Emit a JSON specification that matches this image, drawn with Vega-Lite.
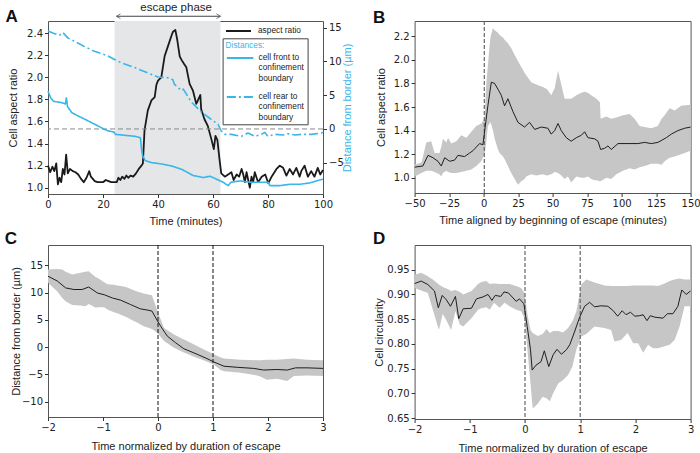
{
  "$schema": "https://vega.github.io/schema/vega-lite/v6.json",
  "padding": {"left": 4, "top": 1, "right": 5, "bottom": 5},
  "background": "white",
  "datasets": {
    "aspect": [
      {"t":0,"v":1.20},{"t":0.8,"v":1.14},{"t":1.6,"v":1.19},{"t":2.3,"v":1.15},{"t":3.0,"v":1.22},{"t":3.6,"v":1.03},{"t":4.2,"v":1.09},{"t":4.8,"v":1.05},{"t":5.4,"v":1.17},{"t":6.0,"v":1.12},{"t":6.6,"v":1.30},{"t":7.2,"v":1.13},{"t":8.0,"v":1.17},{"t":9.0,"v":1.15},{"t":10.0,"v":1.14},{"t":11.0,"v":1.12},{"t":12.0,"v":1.08},{"t":13.0,"v":1.05},{"t":14.0,"v":1.09},{"t":15.0,"v":1.15},{"t":15.6,"v":1.10},{"t":16.3,"v":1.08},{"t":17.0,"v":1.06},{"t":18.0,"v":1.05},{"t":19.0,"v":1.05},{"t":20.0,"v":1.05},{"t":21.0,"v":1.07},{"t":22.0,"v":1.06},{"t":23.0,"v":1.05},{"t":24.0,"v":1.05},{"t":25.0,"v":1.05},{"t":25.6,"v":1.09},{"t":26.3,"v":1.07},{"t":27.0,"v":1.10},{"t":27.8,"v":1.08},{"t":28.5,"v":1.11},{"t":29.2,"v":1.09},{"t":30.0,"v":1.11},{"t":31.0,"v":1.10},{"t":32.0,"v":1.13},{"t":33.0,"v":1.17},{"t":34.0,"v":1.20},{"t":34.5,"v":1.22},{"t":35.1,"v":1.52},{"t":36.3,"v":1.70},{"t":37.6,"v":1.79},{"t":38.8,"v":1.82},{"t":39.4,"v":1.93},{"t":40.0,"v":1.97},{"t":41.2,"v":2.00},{"t":42.4,"v":2.19},{"t":43.6,"v":2.28},{"t":44.8,"v":2.37},{"t":45.4,"v":2.41},{"t":46.3,"v":2.43},{"t":47.0,"v":2.34},{"t":47.9,"v":2.19},{"t":48.5,"v":2.16},{"t":49.5,"v":2.12},{"t":50.3,"v":2.09},{"t":51.5,"v":1.94},{"t":52.7,"v":1.88},{"t":53.9,"v":1.76},{"t":54.5,"v":1.79},{"t":55.4,"v":1.84},{"t":55.7,"v":1.71},{"t":56.9,"v":1.62},{"t":58.1,"v":1.56},{"t":59.4,"v":1.44},{"t":60.3,"v":1.35},{"t":60.9,"v":1.47},{"t":61.6,"v":1.43},{"t":62.4,"v":1.25},{"t":63.0,"v":1.13},{"t":64.3,"v":1.10},{"t":65.5,"v":1.12},{"t":66.7,"v":1.14},{"t":67.5,"v":1.07},{"t":68.6,"v":1.12},{"t":69.5,"v":1.10},{"t":70.4,"v":1.17},{"t":71.0,"v":1.12},{"t":71.6,"v":1.05},{"t":72.2,"v":1.14},{"t":73.4,"v":1.00},{"t":74.0,"v":1.10},{"t":74.6,"v":1.05},{"t":75.2,"v":1.14},{"t":76.4,"v":1.05},{"t":77.7,"v":1.10},{"t":79.0,"v":1.12},{"t":80.1,"v":1.04},{"t":81.3,"v":1.10},{"t":83.1,"v":1.17},{"t":84.3,"v":1.20},{"t":85.5,"v":1.18},{"t":86.7,"v":1.11},{"t":87.9,"v":1.17},{"t":89.1,"v":1.12},{"t":90.3,"v":1.18},{"t":91.5,"v":1.10},{"t":92.1,"v":1.15},{"t":93.3,"v":1.20},{"t":94.5,"v":1.10},{"t":95.7,"v":1.15},{"t":96.9,"v":1.10},{"t":98.1,"v":1.18},{"t":99.0,"v":1.12},{"t":100.0,"v":1.16}
    ],
    "dist": [
      {"which":"cell front to|confinement|boundary","t":0,"d":5.6},{"which":"cell front to|confinement|boundary","t":1.0,"d":4.6},{"which":"cell front to|confinement|boundary","t":2.0,"d":4.1},{"which":"cell front to|confinement|boundary","t":3.5,"d":4.0},{"which":"cell front to|confinement|boundary","t":5.0,"d":3.9},{"which":"cell front to|confinement|boundary","t":6.3,"d":3.7},{"which":"cell front to|confinement|boundary","t":6.7,"d":4.6},{"which":"cell front to|confinement|boundary","t":7.1,"d":3.3},{"which":"cell front to|confinement|boundary","t":8.7,"d":2.4},{"which":"cell front to|confinement|boundary","t":11.1,"d":1.9},{"which":"cell front to|confinement|boundary","t":13.6,"d":1.4},{"which":"cell front to|confinement|boundary","t":16.0,"d":0.9},{"which":"cell front to|confinement|boundary","t":18.4,"d":0.4},{"which":"cell front to|confinement|boundary","t":20.2,"d":0.0},{"which":"cell front to|confinement|boundary","t":22.0,"d":-0.3},{"which":"cell front to|confinement|boundary","t":24.0,"d":-0.45},{"which":"cell front to|confinement|boundary","t":24.5,"d":-0.8},{"which":"cell front to|confinement|boundary","t":27.0,"d":-0.9},{"which":"cell front to|confinement|boundary","t":29.4,"d":-1.0},{"which":"cell front to|confinement|boundary","t":31.8,"d":-1.1},{"which":"cell front to|confinement|boundary","t":33.6,"d":-1.3},{"which":"cell front to|confinement|boundary","t":34.0,"d":-3.0},{"which":"cell front to|confinement|boundary","t":34.4,"d":-4.0},{"which":"cell front to|confinement|boundary","t":35.4,"d":-4.7},{"which":"cell front to|confinement|boundary","t":37.8,"d":-5.0},{"which":"cell front to|confinement|boundary","t":41.5,"d":-5.2},{"which":"cell front to|confinement|boundary","t":45.1,"d":-5.5},{"which":"cell front to|confinement|boundary","t":48.7,"d":-6.0},{"which":"cell front to|confinement|boundary","t":52.8,"d":-6.9},{"which":"cell front to|confinement|boundary","t":56.5,"d":-7.2},{"which":"cell front to|confinement|boundary","t":58.9,"d":-7.0},{"which":"cell front to|confinement|boundary","t":61.3,"d":-7.45},{"which":"cell front to|confinement|boundary","t":63.7,"d":-7.9},{"which":"cell front to|confinement|boundary","t":65.5,"d":-8.4},{"which":"cell front to|confinement|boundary","t":66.5,"d":-7.9},{"which":"cell front to|confinement|boundary","t":69.8,"d":-7.7},{"which":"cell front to|confinement|boundary","t":73.4,"d":-7.9},{"which":"cell front to|confinement|boundary","t":77.0,"d":-7.9},{"which":"cell front to|confinement|boundary","t":80.1,"d":-7.9},{"which":"cell front to|confinement|boundary","t":80.7,"d":-8.4},{"which":"cell front to|confinement|boundary","t":84.3,"d":-8.4},{"which":"cell front to|confinement|boundary","t":87.9,"d":-8.2},{"which":"cell front to|confinement|boundary","t":91.5,"d":-8.2},{"which":"cell front to|confinement|boundary","t":95.2,"d":-8.0},{"which":"cell front to|confinement|boundary","t":97.6,"d":-7.7},{"which":"cell front to|confinement|boundary","t":100,"d":-7.45},
      {"which":"cell rear to|confinement|boundary","t":0,"d":14.5},{"which":"cell rear to|confinement|boundary","t":2.0,"d":14.2},{"which":"cell rear to|confinement|boundary","t":4.2,"d":13.9},{"which":"cell rear to|confinement|boundary","t":5.4,"d":14.3},{"which":"cell rear to|confinement|boundary","t":7.2,"d":13.5},{"which":"cell rear to|confinement|boundary","t":9.6,"d":13.0},{"which":"cell rear to|confinement|boundary","t":13.3,"d":12.2},{"which":"cell rear to|confinement|boundary","t":16.9,"d":11.5},{"which":"cell rear to|confinement|boundary","t":20.6,"d":11.0},{"which":"cell rear to|confinement|boundary","t":21.8,"d":10.8},{"which":"cell rear to|confinement|boundary","t":24.2,"d":10.3},{"which":"cell rear to|confinement|boundary","t":26.7,"d":9.8},{"which":"cell rear to|confinement|boundary","t":31.5,"d":9.1},{"which":"cell rear to|confinement|boundary","t":36.3,"d":8.3},{"which":"cell rear to|confinement|boundary","t":40.0,"d":7.7},{"which":"cell rear to|confinement|boundary","t":43.6,"d":7.6},{"which":"cell rear to|confinement|boundary","t":45.4,"d":7.3},{"which":"cell rear to|confinement|boundary","t":46.0,"d":6.6},{"which":"cell rear to|confinement|boundary","t":48.5,"d":5.7},{"which":"cell rear to|confinement|boundary","t":49.2,"d":5.9},{"which":"cell rear to|confinement|boundary","t":52.1,"d":4.0},{"which":"cell rear to|confinement|boundary","t":55.8,"d":2.5},{"which":"cell rear to|confinement|boundary","t":59.4,"d":1.4},{"which":"cell rear to|confinement|boundary","t":61.8,"d":0.7},{"which":"cell rear to|confinement|boundary","t":63.0,"d":-0.3},{"which":"cell rear to|confinement|boundary","t":64.3,"d":-0.8},{"which":"cell rear to|confinement|boundary","t":66.7,"d":-0.8},{"which":"cell rear to|confinement|boundary","t":70.3,"d":-1.1},{"which":"cell rear to|confinement|boundary","t":72.7,"d":-0.6},{"which":"cell rear to|confinement|boundary","t":75.2,"d":-1.1},{"which":"cell rear to|confinement|boundary","t":77.6,"d":-0.8},{"which":"cell rear to|confinement|boundary","t":78.8,"d":-0.5},{"which":"cell rear to|confinement|boundary","t":80.0,"d":-1.1},{"which":"cell rear to|confinement|boundary","t":82.5,"d":-0.8},{"which":"cell rear to|confinement|boundary","t":85.5,"d":-0.9},{"which":"cell rear to|confinement|boundary","t":87.3,"d":-0.7},{"which":"cell rear to|confinement|boundary","t":90.0,"d":-0.9},{"which":"cell rear to|confinement|boundary","t":92.1,"d":-0.8},{"which":"cell rear to|confinement|boundary","t":95.7,"d":-0.8},{"which":"cell rear to|confinement|boundary","t":99.4,"d":-0.6},{"which":"cell rear to|confinement|boundary","t":100,"d":-0.5}
    ],
    "phase": [{"label":"escape phase","start":24.2,"end":62.7,"a0":24.9,"a1":62.7,"mid":46.6}],
    "bmean": [
      {"t":-50,"m":1.09},{"t":-44,"m":1.10},{"t":-40.3,"m":1.19},{"t":-36.7,"m":1.17},{"t":-33.1,"m":1.14},{"t":-30.7,"m":1.10},{"t":-28.2,"m":1.17},{"t":-24.6,"m":1.14},{"t":-21,"m":1.15},{"t":-18.6,"m":1.19},{"t":-13.8,"m":1.18},{"t":-10.1,"m":1.21},{"t":-7.7,"m":1.23},{"t":-5.3,"m":1.26},{"t":-2.9,"m":1.29},{"t":-0.5,"m":1.28},{"t":0.7,"m":1.39},{"t":3.1,"m":1.61},{"t":5.6,"m":1.81},{"t":8,"m":1.80},{"t":10.9,"m":1.74},{"t":12.8,"m":1.70},{"t":15.2,"m":1.61},{"t":17.6,"m":1.67},{"t":21.3,"m":1.56},{"t":24.9,"m":1.47},{"t":29.7,"m":1.43},{"t":33.3,"m":1.47},{"t":37,"m":1.41},{"t":41.8,"m":1.43},{"t":46.6,"m":1.42},{"t":49,"m":1.37},{"t":51.5,"m":1.40},{"t":53.9,"m":1.46},{"t":56.3,"m":1.40},{"t":59.9,"m":1.34},{"t":63.5,"m":1.31},{"t":67.2,"m":1.34},{"t":70.8,"m":1.36},{"t":73.2,"m":1.39},{"t":75.6,"m":1.34},{"t":80.5,"m":1.33},{"t":82.9,"m":1.31},{"t":84.8,"m":1.24},{"t":87.7,"m":1.25},{"t":90.1,"m":1.27},{"t":92.5,"m":1.24},{"t":97.4,"m":1.29},{"t":104.6,"m":1.29},{"t":111.8,"m":1.29},{"t":116.7,"m":1.30},{"t":121.5,"m":1.29},{"t":126.3,"m":1.30},{"t":132.4,"m":1.34},{"t":136,"m":1.37},{"t":140.8,"m":1.40},{"t":145.7,"m":1.42},{"t":150,"m":1.43}
    ],
    "bband": [
      {"t":-50,"lo":1.01,"hi":1.11},{"t":-45,"lo":1.04,"hi":1.13},{"t":-41.5,"lo":1.06,"hi":1.30},{"t":-38,"lo":1.06,"hi":1.31},{"t":-35.5,"lo":1.05,"hi":1.21},{"t":-32,"lo":1.03,"hi":1.21},{"t":-30.7,"lo":1.01,"hi":1.26},{"t":-29.5,"lo":1.04,"hi":1.33},{"t":-27,"lo":1.06,"hi":1.30},{"t":-25.8,"lo":1.05,"hi":1.34},{"t":-23.4,"lo":1.04,"hi":1.29},{"t":-19.8,"lo":1.04,"hi":1.31},{"t":-16.2,"lo":1.05,"hi":1.36},{"t":-12.5,"lo":1.06,"hi":1.34},{"t":-8.9,"lo":1.07,"hi":1.39},{"t":-5.3,"lo":1.10,"hi":1.44},{"t":-1.7,"lo":1.14,"hi":1.46},{"t":0.7,"lo":1.20,"hi":1.50},{"t":1.9,"lo":1.30,"hi":1.79},{"t":3.1,"lo":1.44,"hi":1.95},{"t":4.4,"lo":1.46,"hi":2.13},{"t":5.1,"lo":1.47,"hi":2.20},{"t":6.8,"lo":1.40,"hi":2.27},{"t":8,"lo":1.33,"hi":2.25},{"t":10.4,"lo":1.24,"hi":2.23},{"t":11.6,"lo":1.21,"hi":2.21},{"t":14,"lo":1.18,"hi":2.19},{"t":15.2,"lo":1.16,"hi":2.17},{"t":17.6,"lo":1.10,"hi":2.14},{"t":18.8,"lo":1.07,"hi":2.12},{"t":20,"lo":1.04,"hi":2.10},{"t":22.5,"lo":0.99,"hi":2.04},{"t":24.9,"lo":0.94,"hi":1.99},{"t":27.3,"lo":0.97,"hi":1.94},{"t":29.7,"lo":0.99,"hi":1.89},{"t":30.9,"lo":1.01,"hi":1.87},{"t":34.5,"lo":1.03,"hi":1.81},{"t":38.2,"lo":1.02,"hi":1.79},{"t":43,"lo":1.03,"hi":1.77},{"t":46,"lo":1.02,"hi":1.75},{"t":49,"lo":1.03,"hi":1.70},{"t":51.5,"lo":1.05,"hi":1.76},{"t":53.9,"lo":1.04,"hi":1.91},{"t":56.3,"lo":1.02,"hi":1.79},{"t":58.7,"lo":0.99,"hi":1.67},{"t":61.1,"lo":1.01,"hi":1.67},{"t":63.5,"lo":0.96,"hi":1.67},{"t":67.2,"lo":1.01,"hi":1.70},{"t":70.8,"lo":1.00,"hi":1.72},{"t":73.2,"lo":1.00,"hi":1.73},{"t":75.6,"lo":1.01,"hi":1.72},{"t":78,"lo":0.99,"hi":1.70},{"t":80.5,"lo":0.98,"hi":1.68},{"t":81.7,"lo":0.98,"hi":1.67},{"t":84.3,"lo":0.97,"hi":1.64},{"t":84.8,"lo":0.97,"hi":1.50},{"t":88.9,"lo":1.00,"hi":1.52},{"t":92.5,"lo":0.99,"hi":1.50},{"t":96.2,"lo":1.03,"hi":1.51},{"t":101,"lo":1.06,"hi":1.53},{"t":105.8,"lo":1.08,"hi":1.54},{"t":109.4,"lo":1.07,"hi":1.50},{"t":113.1,"lo":1.09,"hi":1.44},{"t":116.7,"lo":1.10,"hi":1.43},{"t":121.5,"lo":1.12,"hi":1.42},{"t":126.3,"lo":1.12,"hi":1.44},{"t":129,"lo":1.11,"hi":1.50},{"t":131.2,"lo":1.14,"hi":1.53},{"t":134.8,"lo":1.17,"hi":1.59},{"t":138.4,"lo":1.18,"hi":1.57},{"t":143.2,"lo":1.20,"hi":1.61},{"t":150,"lo":1.23,"hi":1.62}
    ],
    "cmean": [
      {"t":-2,"m":12.99},{"t":-1.83,"m":12.1},{"t":-1.68,"m":10.85},{"t":-1.53,"m":10.55},{"t":-1.38,"m":10.55},{"t":-1.26,"m":11.0},{"t":-1.10,"m":9.9},{"t":-0.98,"m":9.6},{"t":-0.83,"m":9.0},{"t":-0.68,"m":8.6},{"t":-0.50,"m":7.8},{"t":-0.32,"m":7.0},{"t":-0.20,"m":6.8},{"t":-0.11,"m":6.6},{"t":-0.01,"m":4.8},{"t":0.05,"m":3.8},{"t":0.17,"m":2.0},{"t":0.32,"m":0.8},{"t":0.47,"m":-0.3},{"t":0.71,"m":-1.3},{"t":0.89,"m":-2.1},{"t":1.01,"m":-2.7},{"t":1.20,"m":-3.5},{"t":1.44,"m":-3.7},{"t":1.74,"m":-3.9},{"t":1.92,"m":-4.2},{"t":2.16,"m":-4.1},{"t":2.35,"m":-4.2},{"t":2.50,"m":-3.8},{"t":2.71,"m":-3.8},{"t":3.0,"m":-3.9}
    ],
    "cband": [
      {"t":-2,"lo":11.8,"hi":14.2},{"t":-1.83,"lo":10.2,"hi":14.3},{"t":-1.74,"lo":9.0,"hi":14.2},{"t":-1.68,"lo":8.4,"hi":13.8},{"t":-1.56,"lo":7.7,"hi":13.3},{"t":-1.41,"lo":7.6,"hi":13.6},{"t":-1.32,"lo":7.5,"hi":13.8},{"t":-1.26,"lo":7.9,"hi":13.9},{"t":-1.13,"lo":7.2,"hi":12.8},{"t":-1.10,"lo":7.3,"hi":12.7},{"t":-0.98,"lo":7.3,"hi":11.9},{"t":-0.92,"lo":6.9,"hi":11.5},{"t":-0.80,"lo":6.4,"hi":11.4},{"t":-0.74,"lo":6.2,"hi":11.3},{"t":-0.62,"lo":5.7,"hi":11.1},{"t":-0.56,"lo":5.4,"hi":10.9},{"t":-0.44,"lo":4.8,"hi":10.4},{"t":-0.38,"lo":4.5,"hi":10.2},{"t":-0.26,"lo":3.8,"hi":9.8},{"t":-0.11,"lo":3.3,"hi":9.5},{"t":-0.01,"lo":2.6,"hi":6.6},{"t":0.11,"lo":1.1,"hi":3.5},{"t":0.29,"lo":-0.1,"hi":2.3},{"t":0.47,"lo":-1.0,"hi":1.4},{"t":0.53,"lo":-1.2,"hi":1.1},{"t":0.71,"lo":-2.0,"hi":0.2},{"t":0.77,"lo":-2.2,"hi":-0.1},{"t":0.95,"lo":-2.9,"hi":-1.0},{"t":1.01,"lo":-3.2,"hi":-1.3},{"t":1.14,"lo":-4.2,"hi":-1.9},{"t":1.20,"lo":-4.4,"hi":-2.1},{"t":1.50,"lo":-4.7,"hi":-2.3},{"t":1.80,"lo":-5.2,"hi":-2.4},{"t":1.86,"lo":-5.4,"hi":-2.4},{"t":1.98,"lo":-6.0,"hi":-2.3},{"t":2.16,"lo":-5.8,"hi":-2.3},{"t":2.35,"lo":-6.2,"hi":-2.2},{"t":2.47,"lo":-5.3,"hi":-2.1},{"t":2.71,"lo":-5.2,"hi":-2.3},{"t":3.0,"lo":-5.3,"hi":-2.4}
    ],
    "dmean": [
      {"t":-2,"m":0.922},{"t":-1.88,"m":0.927},{"t":-1.76,"m":0.920},{"t":-1.64,"m":0.907},{"t":-1.57,"m":0.873},{"t":-1.50,"m":0.898},{"t":-1.43,"m":0.890},{"t":-1.35,"m":0.876},{"t":-1.26,"m":0.896},{"t":-1.20,"m":0.851},{"t":-1.12,"m":0.871},{"t":-0.97,"m":0.872},{"t":-0.88,"m":0.891},{"t":-0.76,"m":0.895},{"t":-0.67,"m":0.900},{"t":-0.60,"m":0.888},{"t":-0.54,"m":0.898},{"t":-0.44,"m":0.896},{"t":-0.38,"m":0.905},{"t":-0.30,"m":0.903},{"t":-0.16,"m":0.886},{"t":-0.10,"m":0.891},{"t":-0.02,"m":0.881},{"t":0.04,"m":0.835},{"t":0.10,"m":0.788},{"t":0.13,"m":0.747},{"t":0.20,"m":0.757},{"t":0.29,"m":0.764},{"t":0.35,"m":0.786},{"t":0.43,"m":0.754},{"t":0.51,"m":0.778},{"t":0.58,"m":0.789},{"t":0.66,"m":0.779},{"t":0.75,"m":0.788},{"t":0.81,"m":0.798},{"t":0.89,"m":0.822},{"t":0.99,"m":0.854},{"t":1.08,"m":0.876},{"t":1.17,"m":0.884},{"t":1.26,"m":0.875},{"t":1.38,"m":0.877},{"t":1.50,"m":0.876},{"t":1.59,"m":0.868},{"t":1.68,"m":0.856},{"t":1.76,"m":0.867},{"t":1.83,"m":0.859},{"t":1.91,"m":0.864},{"t":1.99,"m":0.856},{"t":2.08,"m":0.857},{"t":2.14,"m":0.859},{"t":2.21,"m":0.847},{"t":2.27,"m":0.857},{"t":2.35,"m":0.854},{"t":2.50,"m":0.852},{"t":2.58,"m":0.861},{"t":2.68,"m":0.861},{"t":2.77,"m":0.876},{"t":2.84,"m":0.909},{"t":2.92,"m":0.900},{"t":3.0,"m":0.907}
    ],
    "dband": [
      {"t":-2,"lo":0.913,"hi":0.940},{"t":-1.88,"lo":0.908,"hi":0.944},{"t":-1.76,"lo":0.903,"hi":0.937},{"t":-1.67,"lo":0.869,"hi":0.930},{"t":-1.56,"lo":0.828,"hi":0.920},{"t":-1.49,"lo":0.861,"hi":0.915},{"t":-1.40,"lo":0.842,"hi":0.911},{"t":-1.34,"lo":0.828,"hi":0.907},{"t":-1.26,"lo":0.866,"hi":0.909},{"t":-1.18,"lo":0.839,"hi":0.905},{"t":-1.12,"lo":0.835,"hi":0.900},{"t":-0.97,"lo":0.852,"hi":0.907},{"t":-0.85,"lo":0.869,"hi":0.921},{"t":-0.79,"lo":0.872,"hi":0.925},{"t":-0.70,"lo":0.874,"hi":0.927},{"t":-0.64,"lo":0.869,"hi":0.921},{"t":-0.56,"lo":0.883,"hi":0.922},{"t":-0.46,"lo":0.873,"hi":0.921},{"t":-0.37,"lo":0.883,"hi":0.921},{"t":-0.28,"lo":0.876,"hi":0.921},{"t":-0.16,"lo":0.869,"hi":0.917},{"t":-0.07,"lo":0.866,"hi":0.913},{"t":-0.01,"lo":0.852,"hi":0.903},{"t":0.05,"lo":0.781,"hi":0.856},{"t":0.10,"lo":0.720,"hi":0.828},{"t":0.14,"lo":0.669,"hi":0.822},{"t":0.23,"lo":0.679,"hi":0.816},{"t":0.32,"lo":0.693,"hi":0.820},{"t":0.39,"lo":0.690,"hi":0.830},{"t":0.45,"lo":0.684,"hi":0.822},{"t":0.51,"lo":0.700,"hi":0.826},{"t":0.60,"lo":0.720,"hi":0.826},{"t":0.69,"lo":0.727,"hi":0.823},{"t":0.78,"lo":0.737,"hi":0.832},{"t":0.86,"lo":0.754,"hi":0.846},{"t":0.93,"lo":0.788,"hi":0.866},{"t":1.02,"lo":0.815,"hi":0.920},{"t":1.11,"lo":0.820,"hi":0.930},{"t":1.26,"lo":0.835,"hi":0.924},{"t":1.44,"lo":0.832,"hi":0.918},{"t":1.56,"lo":0.828,"hi":0.917},{"t":1.62,"lo":0.805,"hi":0.917},{"t":1.74,"lo":0.808,"hi":0.917},{"t":1.86,"lo":0.822,"hi":0.917},{"t":1.96,"lo":0.801,"hi":0.918},{"t":2.05,"lo":0.801,"hi":0.918},{"t":2.14,"lo":0.782,"hi":0.918},{"t":2.23,"lo":0.798,"hi":0.918},{"t":2.32,"lo":0.791,"hi":0.918},{"t":2.41,"lo":0.791,"hi":0.917},{"t":2.53,"lo":0.795,"hi":0.922},{"t":2.62,"lo":0.798,"hi":0.927},{"t":2.71,"lo":0.808,"hi":0.930},{"t":2.80,"lo":0.835,"hi":0.932},{"t":2.89,"lo":0.876,"hi":0.930},{"t":3.0,"lo":0.876,"hi":0.930}
    ],
    "cuts": [{"t":0},{"t":1}]
  },
  "columns": 2,
  "bounds": "flush",
  "spacing": {"row": 51, "column": 91.6},
  "resolve": {"scale": {"stroke": "independent", "strokeDash": "independent"}},
  "concat": [
    {
      "width": 275, "height": 173,
      "resolve": {"scale": {"y": "independent"}},
      "layer": [
        {
          "layer": [
            {"data": {"name": "phase"}, "mark": {"type": "rect", "color": "#e4e6e8"},
             "encoding": {"x": {"field": "start", "type": "quantitative"}, "x2": {"field": "end"}}},
            {"data": {"name": "aspect"}, "mark": {"type": "line", "strokeWidth": 1.8},
             "encoding": {
               "x": {"field": "t", "type": "quantitative", "scale": {"domain": [0, 100], "nice": false}, "axis": {"values": [0,20,40,60,80,100], "tickCount": 20, "format": "d", "title": "Time (minutes)", "titlePadding": 6}},
               "y": {"field": "v", "type": "quantitative", "scale": {"domain": [0.943, 2.51], "nice": false, "zero": false}, "axis": {"orient": "left", "values": [1.0,1.2,1.4,1.6,1.8,2.0,2.2,2.4], "tickCount": 20, "format": ".1f", "title": "Cell aspect ratio", "titlePadding": 8}},
               "stroke": {"datum": "aspect ratio", "type": "nominal", "scale": {"range": ["#1a1a1a"]},
                 "legend": {"title": null, "orient": "none", "legendX": 177, "legendY": -3.5, "symbolType": "stroke", "symbolSize": 625, "symbolStrokeWidth": 2, "labelFont": "Liberation Sans", "labelFontSize": 8.3, "labelColor": "#222", "labelOffset": 6, "padding": 0}}
             }},
            {"data": {"name": "phase"}, "mark": {"type": "rule", "color": "#444", "strokeWidth": 1},
             "encoding": {"x": {"field": "a0", "type": "quantitative"}, "x2": {"field": "a1"}, "y": {"datum": 2.553}}},
            {"data": {"name": "phase"}, "mark": {"type": "point", "shape": "M2,-1.2L0,0L2,1.2", "size": 16, "filled": false, "color": "#444", "strokeWidth": 1},
             "encoding": {"x": {"field": "a0", "type": "quantitative"}, "y": {"datum": 2.553}}},
            {"data": {"name": "phase"}, "mark": {"type": "point", "shape": "M-2,-1.2L0,0L-2,1.2", "size": 16, "filled": false, "color": "#444", "strokeWidth": 1},
             "encoding": {"x": {"field": "a1", "type": "quantitative"}, "y": {"datum": 2.553}}},
            {"data": {"name": "phase"}, "mark": {"type": "text", "font": "Liberation Sans", "fontSize": 11.5, "color": "#222", "baseline": "middle"},
             "encoding": {"x": {"field": "mid", "type": "quantitative"}, "y": {"datum": 2.626}, "text": {"field": "label"}}},
            {"data": {"values": [{"panel": "A"}]}, "mark": {"type": "text", "font": "Liberation Sans", "fontSize": 17, "fontWeight": "bold", "color": "#111", "align": "left", "baseline": "alphabetic"},
             "encoding": {"x": {"datum": -15.5}, "y": {"datum": 2.504}, "text": {"field": "panel"}}}
          ]
        },
        {
          "layer": [
            {"mark": {"type": "rule", "color": "#888", "strokeDash": [5, 3], "strokeWidth": 1},
             "data": {"values": [{"z": 0}]},
             "encoding": {"y": {"field": "z", "type": "quantitative"}}},
            {"data": {"name": "dist"}, "mark": {"type": "line", "strokeWidth": 1.6, "color": "#38b6ea"},
             "encoding": {
               "x": {"field": "t", "type": "quantitative"},
               "y": {"field": "d", "type": "quantitative", "scale": {"domain": [-9.64, 16], "nice": false, "zero": false}, "axis": {"orient": "right", "values": [-5,0,5,10,15], "tickCount": 20, "format": "d", "title": "Distance from border (µm)", "titleColor": "#38b6ea", "titleAngle": 270, "titlePadding": 9}},
               "strokeDash": {"field": "which", "type": "nominal", "scale": {"domain": ["cell front to|confinement|boundary", "cell rear to|confinement|boundary"], "range": [[1, 0], [9, 3, 2, 3]]},
                 "legend": {"title": "Distances:", "orient": "none", "legendX": 174.6, "legendY": 17.3, "titleColor": "#38b6ea", "titleFont": "Liberation Sans", "titleFontSize": 8.3, "titleFontWeight": "normal", "titlePadding": -6, "symbolType": "stroke", "symbolSize": 700, "symbolStrokeWidth": 2, "symbolStrokeColor": "#38b6ea", "labelFont": "Liberation Sans", "labelFontSize": 8.3, "labelColor": "#222", "labelOffset": 4, "labelLimit": 0, "labelExpr": "split(datum.label, '|')", "rowPadding": -1, "padding": 3, "strokeColor": "#444", "fillColor": "white",
                   "encode": {"labels": {"update": {"lineHeight": {"value": 10.2}}}}}}
             }}
          ]
        }
      ]
    },
    {
      "width": 276, "height": 172,
      "layer": [
        {"data": {"name": "bband"}, "mark": {"type": "area", "color": "#c6c6c6", "opacity": 1},
         "encoding": {
           "x": {"field": "t", "type": "quantitative", "scale": {"domain": [-50, 150], "nice": false}, "axis": {"values": [-50,-25,0,25,50,75,100,125,150], "tickCount": 20, "format": "d", "title": "Time aligned by beginning of escape (minutes)", "titlePadding": 6}},
           "y": {"field": "lo", "type": "quantitative", "scale": {"domain": [0.871, 2.329], "nice": false, "zero": false}, "axis": {"values": [1.0,1.2,1.4,1.6,1.8,2.0,2.2], "tickCount": 20, "format": ".1f", "title": "Cell aspect ratio", "titlePadding": 7}},
           "y2": {"field": "hi"}
         }},
        {"data": {"values": [{"t": 0.5}]}, "mark": {"type": "rule", "color": "#666", "strokeDash": [4, 2], "strokeWidth": 1.2},
         "encoding": {"x": {"field": "t", "type": "quantitative"}}},
        {"data": {"name": "bmean"}, "mark": {"type": "line", "color": "#1e1e1e", "strokeWidth": 1},
         "encoding": {"x": {"field": "t", "type": "quantitative"}, "y": {"field": "m", "type": "quantitative"}}},
        {"data": {"values": [{"panel": "B"}]}, "mark": {"type": "text", "font": "Liberation Sans", "fontSize": 17, "fontWeight": "bold", "color": "#111", "align": "left", "baseline": "alphabetic"},
         "encoding": {"x": {"datum": -80.1}, "y": {"datum": 2.315}, "text": {"field": "panel"}}}
      ]
    },
    {
      "width": 275, "height": 172,
      "layer": [
        {"data": {"name": "cband"}, "mark": {"type": "area", "color": "#c6c6c6", "opacity": 1},
         "encoding": {
           "x": {"field": "t", "type": "quantitative", "scale": {"domain": [-2, 3], "nice": false}, "axis": {"values": [-2,-1,0,1,2,3], "tickCount": 20, "format": "d", "title": "Time normalized by duration of escape", "titlePadding": 8}},
           "y": {"field": "lo", "type": "quantitative", "scale": {"domain": [-12.8, 18.7], "nice": false, "zero": false}, "axis": {"values": [-10,-5,0,5,10,15], "tickCount": 20, "format": "d", "title": "Distance from border (µm)", "titlePadding": 0}},
           "y2": {"field": "hi"}
         }},
        {"data": {"name": "cuts"}, "mark": {"type": "rule", "color": "#111", "strokeDash": [4, 2], "strokeWidth": 1},
         "encoding": {"x": {"field": "t", "type": "quantitative"}}},
        {"data": {"name": "cmean"}, "mark": {"type": "line", "color": "#1e1e1e", "strokeWidth": 1},
         "encoding": {"x": {"field": "t", "type": "quantitative"}, "y": {"field": "m", "type": "quantitative"}}},
        {"data": {"values": [{"panel": "C"}]}, "mark": {"type": "text", "font": "Liberation Sans", "fontSize": 17, "fontWeight": "bold", "color": "#111", "align": "left", "baseline": "alphabetic"},
         "encoding": {"x": {"datum": -2.786}, "y": {"datum": 18.83}, "text": {"field": "panel"}}}
      ]
    },
    {
      "width": 276, "height": 174,
      "layer": [
        {"data": {"name": "dband"}, "mark": {"type": "area", "color": "#c6c6c6", "opacity": 1},
         "encoding": {
           "x": {"field": "t", "type": "quantitative", "scale": {"domain": [-2, 3], "nice": false}, "axis": {"values": [-2,-1,0,1,2,3], "tickCount": 20, "format": "d", "title": "Time normalized by duration of escape", "titlePadding": 8}},
           "y": {"field": "lo", "type": "quantitative", "scale": {"domain": [0.648, 1.0], "nice": false, "zero": false}, "axis": {"values": [0.65,0.7,0.75,0.8,0.85,0.9,0.95], "tickCount": 20, "format": ".2f", "title": "Cell circularity", "titlePadding": 2}},
           "y2": {"field": "hi"}
         }},
        {"data": {"name": "cuts"}, "mark": {"type": "rule", "color": "#666", "strokeDash": [4, 2], "strokeWidth": 1.2},
         "encoding": {"x": {"field": "t", "type": "quantitative"}}},
        {"data": {"name": "dmean"}, "mark": {"type": "line", "color": "#1e1e1e", "strokeWidth": 1},
         "encoding": {"x": {"field": "t", "type": "quantitative"}, "y": {"field": "m", "type": "quantitative"}}},
        {"data": {"values": [{"panel": "D"}]}, "mark": {"type": "text", "font": "Liberation Sans", "fontSize": 17, "fontWeight": "bold", "color": "#111", "align": "left", "baseline": "alphabetic"},
         "encoding": {"x": {"datum": -2.754}, "y": {"datum": 1.0014}, "text": {"field": "panel"}}}
      ]
    }
  ],
  "config": {
    "font": "Liberation Sans",
    "view": {"stroke": "#555", "strokeWidth": 1},
    "axis": {"labelFont": "DejaVu Sans", "labelFontSize": 10, "labelColor": "#222", "titleFont": "Liberation Sans", "titleFontSize": 11, "titleFontWeight": "normal", "titleColor": "#222", "grid": false, "domain": false, "tickColor": "#333", "tickSize": 3.5, "labelPadding": 2, "labelOverlap": false, "labelFlush": false, "labelBound": false},
    "line": {"strokeJoin": "round"}
  }
}
